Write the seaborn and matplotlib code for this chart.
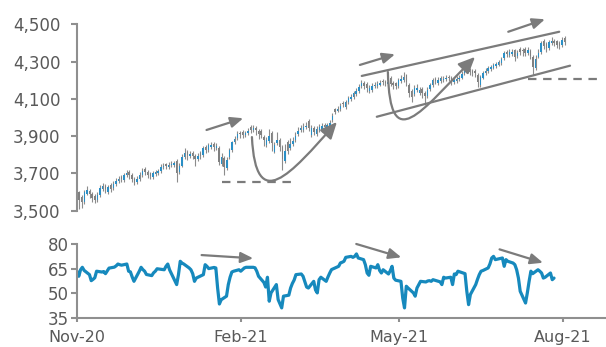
import numpy as np
import pandas as pd
import matplotlib
matplotlib.use("Agg")
import matplotlib.pyplot as plt
import matplotlib.dates as mdates
from matplotlib.path import Path
from matplotlib.patches import FancyArrowPatch
import seaborn as sns

# ---------------------------------------------------------------- data
# US trading sessions, 9 Nov 2020 - 4 Aug 2021
market_holidays = ["2020-11-26", "2020-12-25", "2021-01-01", "2021-01-18",
                   "2021-02-15", "2021-04-02", "2021-05-31", "2021-07-05"]
sessions = pd.bdate_range("2020-11-09", "2021-08-04")
sessions = sessions[~sessions.isin(pd.to_datetime(market_holidays))]

open_px = [3598, 3573, 3547, 3592, 3608, 3588, 3578, 3557, 3582, 3617,
           3633, 3602, 3636, 3620, 3642, 3657, 3683, 3664, 3690, 3706,
           3693, 3670, 3652, 3670, 3690, 3723, 3708, 3700, 3682, 3697,
           3702, 3714, 3732, 3748, 3732, 3744, 3747, 3768, 3707, 3742,
           3787, 3813, 3792, 3810, 3793, 3777, 3810, 3797, 3843, 3824,
           3842, 3860, 3837, 3838, 3750, 3782, 3727, 3787, 3827, 3867,
           3890, 3918, 3923, 3907, 3916, 3948, 3932, 3946, 3930, 3926,
           3898, 3852, 3872, 3918, 3817, 3864, 3880, 3843, 3767, 3868,
           3837, 3857, 3880, 3912, 3932, 3934, 3947, 3980, 3907, 3943,
           3912, 3932, 3932, 3960, 3937, 3947, 3987, 4043, 4037, 4047,
           4078, 4057, 4082, 4100, 4110, 4127, 4142, 4170, 4186, 4178,
           4142, 4147, 4167, 4170, 4177, 4196, 4193, 4180, 4213, 4186,
           4183, 4167, 4197, 4202, 4226, 4173, 4143, 4127, 4147, 4130,
           4153, 4133, 4117, 4152, 4172, 4208, 4187, 4197, 4200, 4207,
           4218, 4210, 4192, 4197, 4207, 4214, 4237, 4260, 4254, 4248,
           4250, 4230, 4172, 4214, 4237, 4250, 4262, 4268, 4277, 4284,
           4294, 4320, 4354, 4337, 4342, 4360, 4330, 4368, 4363, 4370,
           4347, 4358, 4323, 4267, 4327, 4352, 4413, 4393, 4372, 4397,
           4413, 4408, 4398, 4390, 4426]

high_px = [3608, 3583, 3613, 3633, 3618, 3598, 3588, 3598, 3638, 3648,
           3643, 3640, 3646, 3658, 3676, 3688, 3693, 3703, 3720, 3716,
           3703, 3680, 3688, 3706, 3728, 3733, 3718, 3710, 3713, 3720,
           3726, 3748, 3756, 3758, 3760, 3768, 3768, 3778, 3756, 3803,
           3834, 3823, 3820, 3820, 3803, 3808, 3820, 3848, 3853, 3864,
           3868, 3870, 3863, 3848, 3808, 3792, 3788, 3838, 3876, 3900,
           3926, 3928, 3933, 3930, 3945, 3958, 3958, 3956, 3940, 3936,
           3908, 3898, 3936, 3928, 3870, 3923, 3890, 3853, 3858, 3878,
           3888, 3896, 3920, 3948, 3958, 3968, 3978, 3990, 3958, 3953,
           3953, 3963, 3970, 3970, 3973, 3986, 4023, 4053, 4063, 4078,
           4088, 4096, 4116, 4128, 4143, 4158, 4180, 4200, 4196, 4188,
           4176, 4183, 4190, 4198, 4203, 4206, 4203, 4208, 4223, 4196,
           4193, 4213, 4226, 4243, 4236, 4183, 4153, 4173, 4178, 4166,
           4163, 4143, 4166, 4186, 4213, 4218, 4218, 4223, 4223, 4230,
           4228, 4220, 4218, 4220, 4226, 4248, 4266, 4270, 4264, 4258,
           4260, 4240, 4228, 4250, 4263, 4276, 4283, 4293, 4300, 4308,
           4326, 4358, 4364, 4366, 4368, 4370, 4364, 4378, 4373, 4380,
           4376, 4368, 4333, 4333, 4368, 4413, 4423, 4403, 4418, 4433,
           4423, 4418, 4408, 4433, 4436]

low_px = [3510, 3512, 3537, 3582, 3567, 3547, 3542, 3547, 3572, 3607,
          3597, 3592, 3602, 3610, 3632, 3647, 3652, 3654, 3680, 3672,
          3652, 3637, 3642, 3660, 3680, 3692, 3678, 3672, 3672, 3687,
          3692, 3704, 3722, 3722, 3722, 3734, 3737, 3654, 3697, 3732,
          3777, 3772, 3782, 3777, 3742, 3767, 3777, 3787, 3807, 3814,
          3832, 3822, 3827, 3744, 3740, 3692, 3717, 3777, 3817, 3857,
          3880, 3892, 3890, 3897, 3906, 3917, 3922, 3907, 3887, 3892,
          3847, 3842, 3862, 3822, 3807, 3854, 3822, 3718, 3757, 3802,
          3827, 3847, 3870, 3902, 3922, 3924, 3937, 3927, 3897, 3904,
          3902, 3922, 3922, 3927, 3927, 3937, 3977, 4017, 4027, 4037,
          4054, 4047, 4072, 4090, 4100, 4117, 4132, 4160, 4152, 4137,
          4132, 4137, 4157, 4160, 4167, 4172, 4167, 4170, 4170, 4152,
          4152, 4157, 4187, 4192, 4167, 4112, 4082, 4117, 4137, 4120,
          4102, 4067, 4107, 4142, 4162, 4180, 4177, 4187, 4190, 4197,
          4194, 4172, 4182, 4187, 4197, 4204, 4227, 4237, 4230, 4222,
          4217, 4164, 4162, 4204, 4227, 4240, 4252, 4258, 4267, 4274,
          4284, 4310, 4322, 4327, 4332, 4302, 4320, 4337, 4332, 4330,
          4337, 4312, 4229, 4257, 4317, 4342, 4367, 4352, 4362, 4387,
          4382, 4372, 4370, 4380, 4390]

close_px = [3560, 3545, 3598, 3612, 3590, 3566, 3558, 3582, 3624, 3630,
            3618, 3625, 3618, 3645, 3662, 3672, 3669, 3690, 3700, 3692,
            3668, 3650, 3672, 3690, 3715, 3706, 3694, 3688, 3700, 3705,
            3712, 3735, 3742, 3738, 3747, 3752, 3756, 3702, 3742, 3790,
            3812, 3800, 3806, 3795, 3778, 3796, 3792, 3836, 3823, 3850,
            3853, 3842, 3849, 3762, 3787, 3732, 3774, 3826, 3866, 3887,
            3912, 3910, 3908, 3917, 3930, 3933, 3941, 3931, 3913, 3907,
            3877, 3881, 3903, 3862, 3852, 3880, 3842, 3775, 3820, 3818,
            3860, 3876, 3903, 3925, 3941, 3948, 3957, 3944, 3941, 3920,
            3938, 3950, 3957, 3948, 3960, 3972, 4010, 4032, 4046, 4064,
            4070, 4082, 4102, 4112, 4129, 4142, 4166, 4183, 4170, 4158,
            4156, 4168, 4172, 4180, 4185, 4188, 4184, 4190, 4181, 4174,
            4170, 4199, 4205, 4215, 4188, 4129, 4112, 4156, 4160, 4145,
            4132, 4118, 4150, 4172, 4199, 4194, 4203, 4210, 4206, 4212,
            4210, 4188, 4200, 4206, 4212, 4235, 4253, 4250, 4244, 4240,
            4237, 4190, 4215, 4237, 4250, 4263, 4270, 4280, 4286, 4296,
            4312, 4344, 4338, 4352, 4350, 4322, 4348, 4352, 4355, 4344,
            4360, 4330, 4270, 4315, 4344, 4398, 4382, 4371, 4403, 4412,
            4398, 4390, 4386, 4416, 4403]

rsi_14 = [63.5, 60.4, 64.4, 65.9, 64.0, 61.4, 57.7, 58.5, 59.5, 63.5,
          63.0, 63.3, 62.0, 65.4, 66.0, 66.8, 67.9, 67.5, 67.2, 67.9,
          63.5, 63.1, 60.0, 57.3, 63.5, 65.9, 64.5, 63.5, 61.5, 60.8,
          62.5, 63.5, 65.0, 64.4, 66.5, 67.9, 64.4, 55.3, 61.4, 69.6,
          68.5, 67.9, 65.5, 64.4, 62.0, 57.3, 59.3, 61.4, 67.5, 66.5,
          65.1, 65.8, 65.5, 53.2, 43.4, 46.0, 48.2, 55.3, 59.8, 63.0,
          63.5, 64.4, 63.5, 64.5, 65.5, 65.9, 65.9, 65.6, 63.5, 60.4,
          56.6, 53.8, 59.8, 45.1, 50.2, 55.3, 46.1, 43.5, 41.0, 48.2,
          48.8, 53.2, 56.0, 58.1, 61.4, 61.8, 60.4, 57.0, 53.8, 53.2,
          57.3, 52.0, 50.2, 58.3, 59.8, 57.3, 60.0, 62.4, 64.5, 66.5,
          68.6, 69.0, 69.6, 72.0, 72.6, 72.0, 72.6, 74.1, 71.6, 70.6,
          67.5, 62.4, 61.0, 66.5, 65.5, 67.5, 64.0, 62.4, 64.4, 61.8,
          63.8, 66.5, 59.3, 58.0, 57.3, 47.0, 41.0, 54.3, 53.2, 50.2,
          48.2, 53.2, 55.3, 57.3, 56.9, 57.5, 57.7, 57.3, 58.3, 57.0,
          55.3, 59.8, 59.3, 59.8, 55.3, 61.8, 61.4, 63.5, 62.4, 62.0,
          51.2, 43.0, 49.2, 55.3, 58.5, 61.4, 63.5, 63.9, 65.5, 68.0,
          71.6, 72.6, 70.6, 71.6, 66.5, 70.6, 69.6, 68.5, 67.5, 64.4,
          59.3, 51.2, 44.0, 50.2, 57.3, 63.5, 62.0, 64.4, 63.5, 62.4,
          59.3, 59.8, 62.4, 58.3, 59.3]

price_ticks = [3500, 3700, 3900, 4100, 4300, 4500]
rsi_ticks = [35, 50, 65, 80]
date_ticks = ["2020-11-09", "2021-02-09", "2021-05-09", "2021-08-09"]
date_tick_labels = ["Nov-20", "Feb-21", "May-21", "Aug-21"]

# ---------------------------------------------------------------- style
BLUE = "#1689bd"
UP_BODY = "#2a8fc6"
DOWN_BODY = "#808080"
WICK = "#8c8c8c"
AXIS = "#8f8f8f"
NOTE = "#7b7b7b"
LABEL = "#595959"

sns.set_theme(style="white")
plt.rcParams["font.family"] = ["DejaVu Sans"]

W, H = 606, 347
fig = plt.figure(figsize=(W / 100, H / 100), dpi=100)
fig.patch.set_facecolor("white")
ax1 = fig.add_axes([77 / W, 1 - 210.7 / H, (600 - 77) / W, 186.4 / H])
ax2 = fig.add_axes([77 / W, 1 - 317.7 / H, (606 - 77) / W, 73.4 / H])

# ---------------------------------------------------------------- candles
o = np.array(open_px, float)
hi = np.array(high_px, float)
lo = np.array(low_px, float)
c = np.array(close_px, float)
x = np.arange(len(c))
rising = c >= o

ax1.vlines(x, lo, hi, colors=WICK, lw=0.8, zorder=2)
body_low = np.minimum(o, c)
body_h = np.maximum(np.abs(c - o), 4)
ax1.bar(x, body_h, bottom=body_low, width=0.55,
        color=np.where(rising, UP_BODY, DOWN_BODY), linewidth=0, zorder=3)

ax1.set_xlim(-0.76, 197.35)
ax1.set_ylim(price_ticks[0], price_ticks[-1])
ax1.set_yticks(price_ticks)
ax1.set_yticklabels([f"{v:,}" for v in price_ticks])
ax1.set_xticks([])
for side in ("top", "right", "bottom"):
    ax1.spines[side].set_visible(False)
ax1.spines["left"].set_color(AXIS)
ax1.spines["left"].set_linewidth(1.5)
ax1.tick_params(axis="y", direction="out", left=True, length=4, width=1.5,
                color=AXIS, labelcolor=LABEL, labelsize=12, pad=8)

# ---------------------------------------------------------------- RSI
sns.lineplot(x=sessions, y=rsi_14, ax=ax2, color=BLUE, linewidth=2.3,
             legend=False)
t0 = pd.Timestamp("2020-11-09")
ax2.set_xlim(t0, t0 + pd.Timedelta(days=297.2))
ax2.set_ylim(rsi_ticks[0], rsi_ticks[-1])
ax2.set_yticks(rsi_ticks)
ax2.set_yticklabels([str(v) for v in rsi_ticks])
ax2.set_xticks(mdates.date2num(pd.to_datetime(date_ticks)))
ax2.set_xticklabels(date_tick_labels)
ax2.set_xlabel("")
ax2.set_ylabel("")
for side in ("top", "right"):
    ax2.spines[side].set_visible(False)
for side in ("left", "bottom"):
    ax2.spines[side].set_color(AXIS)
    ax2.spines[side].set_linewidth(1.5)
ax2.tick_params(axis="y", direction="out", left=True, length=4, width=1.5,
                color=AXIS, labelcolor=LABEL, labelsize=12, pad=2)
ax2.tick_params(axis="x", direction="out", bottom=True, length=3, width=1.5,
                color=AXIS, labelcolor=LABEL, labelsize=11.5, pad=5.5)

# ---------------------------------------------------------------- annotations
straight_head = "-|>,head_length=0.75,head_width=0.32"
curve_head = "-|>,head_length=1.0,head_width=0.45"


def arrow(ax, start, end):
    ax.add_patch(FancyArrowPatch(start, end, arrowstyle=straight_head,
                                 mutation_scale=10, color=NOTE, lw=1.6,
                                 shrinkA=0, shrinkB=0, clip_on=False,
                                 zorder=5))


def curved_arrow(ax, pts):
    path = Path(pts, [Path.MOVETO, Path.CURVE4, Path.CURVE4, Path.CURVE4])
    ax.add_patch(FancyArrowPatch(path=path, arrowstyle=curve_head,
                                 mutation_scale=10, color=NOTE, lw=1.6,
                                 clip_on=False, zorder=5))


# trend arrows on price
arrow(ax1, (48.3, 3933), (62.2, 3996))
arrow(ax1, (106.4, 4282), (119.7, 4339))
arrow(ax1, (162.6, 4460), (176.5, 4527))

# rounded bottoms
curved_arrow(ax1, [(65.5, 3895), (67.0, 3477), (79.9, 3692), (97.7, 3976)])
curved_arrow(ax1, [(117.0, 4244), (117.8, 3788), (129.2, 4030), (150.0, 4325)])

# rising channel
ax1.plot([107.1, 181.9], [4223, 4460], color=NOTE, lw=1.6, zorder=4)
ax1.plot([112.8, 186.0], [4004, 4278], color=NOTE, lw=1.6, zorder=4)

# support levels
ax1.hlines(3652, 54.0, 80.6, colors=NOTE, lw=1.6,
           linestyles=(0, (3.8, 3.0)), zorder=4)
ax1.hlines(4207, 170.2, 196.7, colors=NOTE, lw=1.6,
           linestyles=(0, (3.8, 3.0)), zorder=4, clip_on=False)

# fading momentum on RSI
d0 = mdates.date2num(t0)
arrow(ax2, (d0 + 70.0, 73.4), (d0 + 99.0, 71.4))
arrow(ax2, (d0 + 156.9, 80.2), (d0 + 182.2, 72.0))
arrow(ax2, (d0 + 237.4, 76.9), (d0 + 261.8, 68.7))

fig.savefig("out.png", dpi=100, facecolor="white")
